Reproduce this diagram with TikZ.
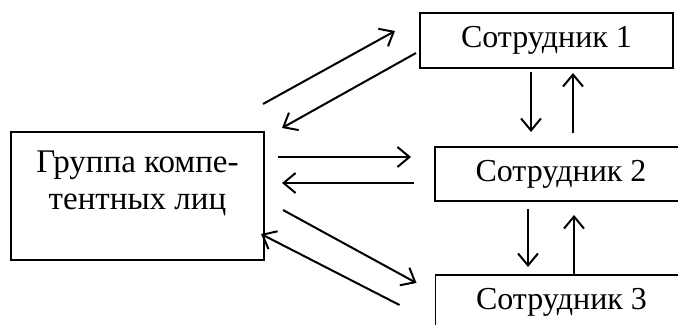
\documentclass[tikz,border=0pt]{standalone}
\usepackage{fontspec}
\setmainfont{Liberation Serif}
\usetikzlibrary{arrows.meta, positioning}

\begin{document}
\begin{tikzpicture}[x=0.5pt, y=-0.5pt,
    box/.style={draw, line width=0.6pt, inner sep=0pt, outer sep=0pt, font=\fontsize{16}{18.5}\selectfont},
    arr/.style={line width=1pt, -{Straight Barb[length=6pt, width=10pt, line width=1pt]}}]
  \useasboundingbox (0,0) rectangle (678,325);

  % boxes
  \node[box, minimum width=126.5pt, minimum height=64pt] (grp) at (137.5, 196) {};
  \node[font=\fontsize{16.5}{18.5}\selectfont, align=center, inner sep=0pt, anchor=north] (grptxt) at ([yshift=-9pt]grp.north) {Группа компе-\\тентных лиц};
  \node[box, minimum width=126.5pt, minimum height=27.5pt] (s1) at (546.5, 40.5) {Сотрудник 1};
  \node[box, minimum width=126pt, minimum height=27pt] (s2) at (561, 174) {Сотрудник 2};
  \node[box, minimum width=126pt, minimum height=27pt] (s3) at (561.5, 302) {Сотрудник 3};

  % group <-> staff
  \draw[arr] ([shift={(-1,-28)}]grp.north east) -- ([shift={(-25,-9.5)}]s1.west);
  \draw[arr] ([shift={(-4,12.5)}]s1.west) -- ([shift={(18,-4)}]grp.north east);
  \draw[arr] ([shift={(14,-39)}]grp.east) -- ([shift={(-24,-17)}]s2.west);
  \draw[arr] ([shift={(-21,9)}]s2.west) -- ([shift={(18,-13)}]grp.east);
  \draw[arr] ([shift={(19,14)}]grp.east) -- ([shift={(-19,-19)}]s3.west);
  \draw[arr] ([shift={(-36,3)}]s3.west) -- ([shift={(-3,38)}]grp.east);

  % between staff
  \draw[arr] ([shift={(-15.5,4)}]s1.south) -- ([shift={(-30,-15)}]s2.north);
  \draw[arr] ([shift={(12,-14)}]s2.north) -- ([shift={(26.5,5)}]s1.south);
  \draw[arr] ([shift={(-33,8)}]s2.south) -- ([shift={(-33.5,-8)}]s3.north);
  \draw[arr] ([shift={(12.5,0)}]s3.north) -- ([shift={(13,14)}]s2.south);
\end{tikzpicture}
\end{document}
